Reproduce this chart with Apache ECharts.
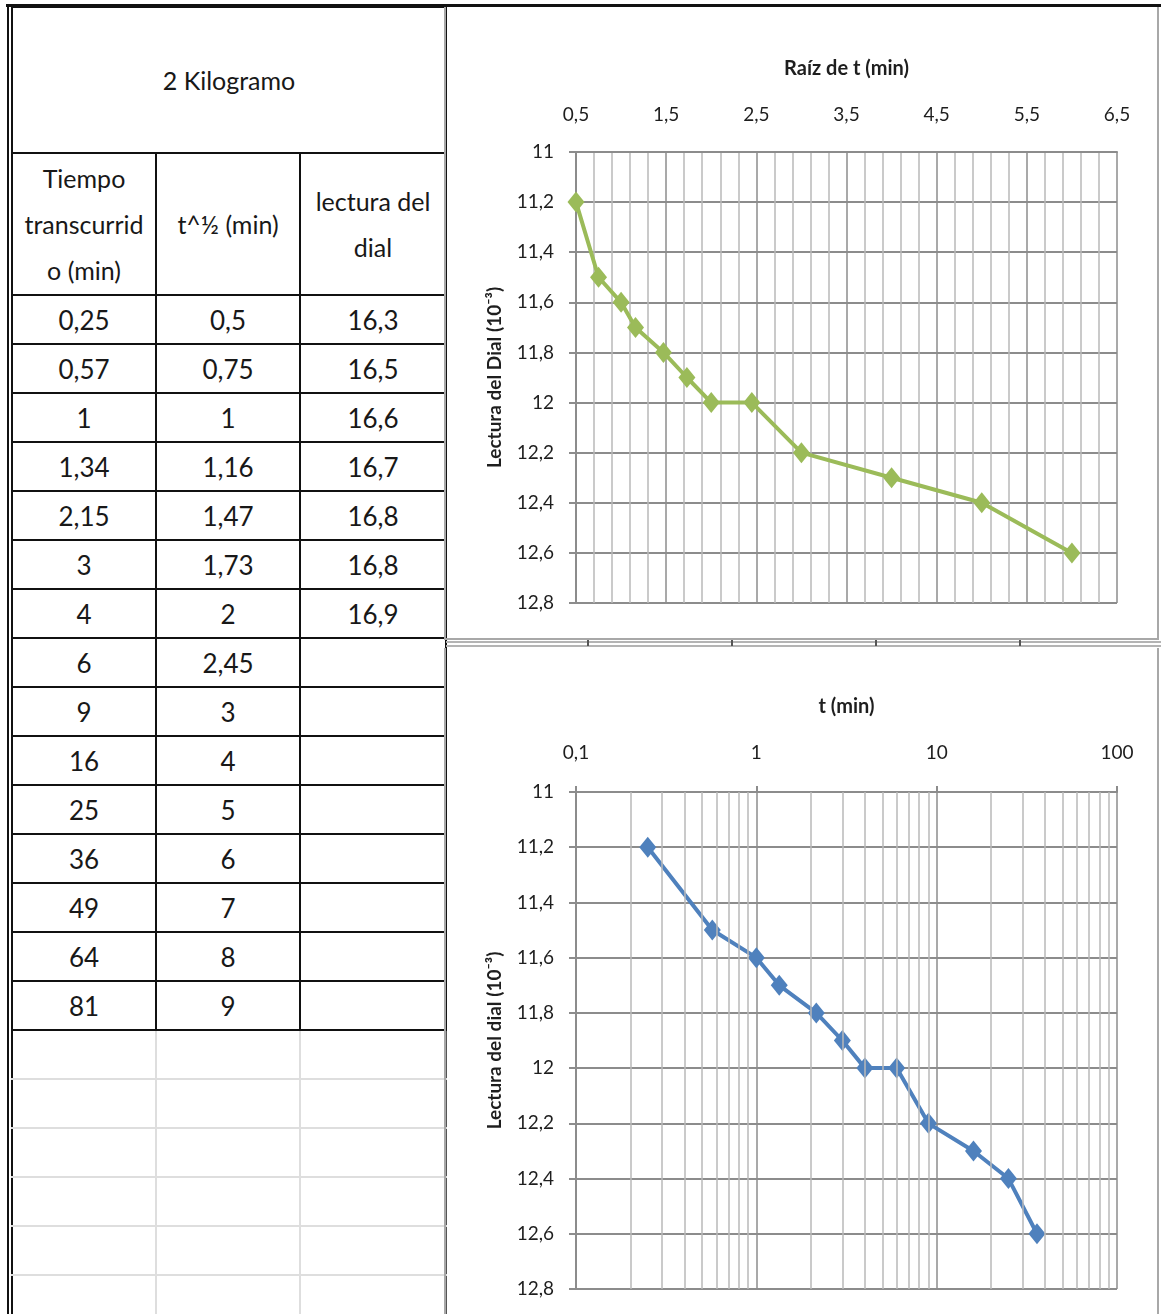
<!DOCTYPE html>
<html lang="es">
<head>
<meta charset="utf-8">
<title>Lectura del dial - 2 Kilogramo</title>
<script src="https://cdn.jsdelivr.net/npm/echarts@6.0.0/dist/echarts.min.js"></script>
<style>
  html, body { margin: 0; padding: 0; background: #fff; }
  #page {
    position: relative; width: 1161px; height: 1314px; overflow: hidden;
    font-family: Lato, 'DejaVu Sans Condensed', 'Open Sans', sans-serif;
  }
  .barra-top { position: absolute; left: 6px; right: 0; top: 4px; height: 3px; background: #111; }
  .borde-izq { position: absolute; left: 7px; top: 4px; bottom: 0; width: 2px; background: #111; }
  #tabla {
    position: absolute; left: 11px; top: 6px; width: 434px;
    border-collapse: collapse; table-layout: fixed;
  }
  #tabla td {
    border: 2px solid #111; text-align: center; vertical-align: middle;
    font-size: 26px; color: #181818; padding: 0; line-height: 30px;
  }
  #tabla tr.encabezado td { font-size: 25px; line-height: 46px; }
  #tabla td.vacia { border: 2px solid #dedede; }
  #tabla td.vacia.izq { border-left: 2px solid #111; }
  #tabla td.vacia.der { border-right: 2px solid #555; }
  .chart { position: absolute; left: 444px; width: 711px; border-left: 2px solid #a8a8a8; border-right: 2px solid #a8a8a8; }
  #chart_raiz { top: 7px; height: 631px; border-bottom: 2px solid #a8a8a8; }
  #chart_log { top: 648px; height: 666px; }
  .sep { position: absolute; left: 446px; right: 0; height: 2px; background: #b4b4b4; }
  .marca { position: absolute; top: 640px; width: 2px; height: 6px; background: #555; }
</style>
</head>
<body>
<div id="page">
  <table id="tabla"></table>
  <div class="borde-izq"></div>
  <div class="barra-top"></div>
  <div class="chart" id="chart_raiz"></div>
  <div class="sep" style="top:641px"></div>
  <div class="sep" style="top:645px"></div>
  <div class="marca" style="left:587px"></div>
  <div class="marca" style="left:731px"></div>
  <div class="marca" style="left:875px"></div>
  <div class="marca" style="left:1019px"></div>
  <div class="chart" id="chart_log"></div>
</div>

<script>
// datos de la tabla (tal como aparecen, con coma decimal)
const tiemposTabla = ['0,25', '0,57', '1', '1,34', '2,15', '3', '4', '6', '9', '16', '25', '36', '49', '64', '81']
const raicesTabla = ['0,5', '0,75', '1', '1,16', '1,47', '1,73', '2', '2,45', '3', '4', '5', '6', '7', '8', '9']
const lecturasTabla = ['16,3', '16,5', '16,6', '16,7', '16,8', '16,8', '16,9']

// datos de las graficas
const tMin = [0.25, 0.57, 1, 1.34, 2.15, 3, 4, 6, 9, 16, 25, 36]
const raizT = [0.5, 0.75, 1, 1.16, 1.47, 1.73, 2, 2.45, 3, 4, 5, 6]
const lecturaDial = [11.2, 11.5, 11.6, 11.7, 11.8, 11.9, 12.0, 12.0, 12.2, 12.3, 12.4, 12.6]

// ---- tabla ----
function armarTabla() {
  const filas = []
  filas.push('<colgroup><col style="width:144px"><col style="width:144px"><col style="width:146px"></colgroup>')
  filas.push('<tr style="height:146px"><td colspan="3" style="font-size:25px">2 Kilogramo</td></tr>')
  filas.push('<tr class="encabezado" style="height:142px"><td>Tiempo<br>transcurrid<br>o (min)</td>' +
    '<td>t^½ (min)</td><td>lectura del<br>dial</td></tr>')
  for (let i = 0; i < tiemposTabla.length; i++) {
    filas.push('<tr style="height:49px"><td>' + tiemposTabla[i] + '</td><td>' + raicesTabla[i] +
      '</td><td>' + (lecturasTabla[i] || '') + '</td></tr>')
  }
  // celdas vacias de la hoja de calculo
  for (let i = 0; i < 6; i++) {
    filas.push('<tr style="height:49px"><td class="vacia izq"></td><td class="vacia"></td><td class="vacia der"></td></tr>')
  }
  document.getElementById('tabla').innerHTML = filas.join('')
}
armarTabla()

// ---- graficas ----
const fuente = "Lato, 'DejaVu Sans Condensed', 'Open Sans', sans-serif"
const coma = v => String(+(+v).toFixed(2)).replace('.', ',')
const gris = '#8c8c8c'
const grisClaro = '#b8b8b8'
const nada = 'rgba(0,0,0,0)'

// eje y comun (lectura del dial, invertido)
function ejeLectura(nombre) {
  return {
    type: 'value',
    inverse: true,
    min: 11,
    max: 12.8,
    interval: 0.2,
    name: nombre,
    nameLocation: 'middle',
    nameGap: 72,
    nameTextStyle: { fontSize: 19, fontWeight: 'bold', color: '#1e1e1e', fontFamily: fuente },
    axisLine: { show: true, lineStyle: { color: gris, width: 2 } },
    axisTick: { show: true, length: 7, lineStyle: { color: gris, width: 2 } },
    axisLabel: { margin: 22, fontSize: 19, color: '#1e1e1e', fontFamily: fuente, formatter: coma },
    splitLine: { show: true, lineStyle: { color: gris, width: 2 } },
  }
}

// grafica 1: raiz de t
const chartRaiz = echarts.init(document.getElementById('chart_raiz'))
// ticks cada 0.1 desde 0.5: linea mayor en x.5, menor cada 0.2
const patronRaiz = [gris, nada, grisClaro, nada, grisClaro, nada, grisClaro, nada, grisClaro, nada]
chartRaiz.setOption({
  animation: false,
  grid: { left: 130, right: 40, top: 145, bottom: 35 },
  xAxis: {
    type: 'value',
    position: 'top',
    min: 0.5,
    max: 6.5,
    interval: 0.1,
    name: 'Raíz de t (min)',
    nameLocation: 'middle',
    nameGap: 73,
    nameTextStyle: { fontSize: 20, fontWeight: 'bold', color: '#1e1e1e', fontFamily: fuente },
    axisLine: { show: true, lineStyle: { color: gris, width: 2 } },
    axisTick: { show: false },
    axisLabel: {
      margin: 28,
      fontSize: 19,
      color: '#1e1e1e',
      fontFamily: fuente,
      formatter: v => (Math.round(v * 10) % 10 === 5 ? coma(v) : ''),
    },
    splitLine: { show: true, lineStyle: { color: patronRaiz, width: 1.5 } },
  },
  yAxis: ejeLectura('Lectura del Dial (10⁻³)'),
  series: [
    {
      type: 'line',
      data: raizT.map((x, i) => [x, lecturaDial[i]]),
      symbol: 'diamond',
      symbolSize: [17, 21],
      lineStyle: { color: '#9bbb59', width: 4 },
      itemStyle: { color: '#9bbb59' },
      z: 3,
    },
  ],
})

// grafica 2: t en escala logaritmica
const chartLog = echarts.init(document.getElementById('chart_log'))
const lineasMenores = []
for (const dec of [0.1, 1, 10]) {
  for (let k = 2; k <= 9; k++) lineasMenores.push(+(dec * k).toFixed(2))
}
chartLog.setOption({
  animation: false,
  grid: { left: 130, right: 40, top: 144, bottom: 25 },
  xAxis: {
    type: 'log',
    logBase: 10,
    position: 'top',
    min: 0.1,
    max: 100,
    name: 't (min)',
    nameLocation: 'middle',
    nameGap: 75,
    nameTextStyle: { fontSize: 20, fontWeight: 'bold', color: '#1e1e1e', fontFamily: fuente },
    axisLine: { show: true, lineStyle: { color: gris, width: 2 } },
    axisTick: { show: true, length: 6, lineStyle: { color: gris, width: 2 } },
    axisLabel: { margin: 30, fontSize: 19, color: '#1e1e1e', fontFamily: fuente, formatter: coma },
    splitLine: { show: true, lineStyle: { color: gris, width: 1.5 } },
  },
  yAxis: ejeLectura('Lectura del dial (10⁻³)'),
  series: [
    {
      // lineas menores de la grilla logaritmica
      type: 'line',
      data: [],
      silent: true,
      z: 1,
      markLine: {
        silent: true,
        animation: false,
        symbol: ['none', 'none'],
        label: { show: false },
        lineStyle: { type: 'solid', color: grisClaro, width: 1.5 },
        data: lineasMenores.map(x => ({ xAxis: x })),
      },
    },
    {
      type: 'line',
      data: tMin.map((t, i) => [t, lecturaDial[i]]),
      symbol: 'diamond',
      symbolSize: [17, 21],
      lineStyle: { color: '#4f81bd', width: 4 },
      itemStyle: { color: '#4f81bd' },
      z: 3,
    },
  ],
})
</script>
</body>
</html>
